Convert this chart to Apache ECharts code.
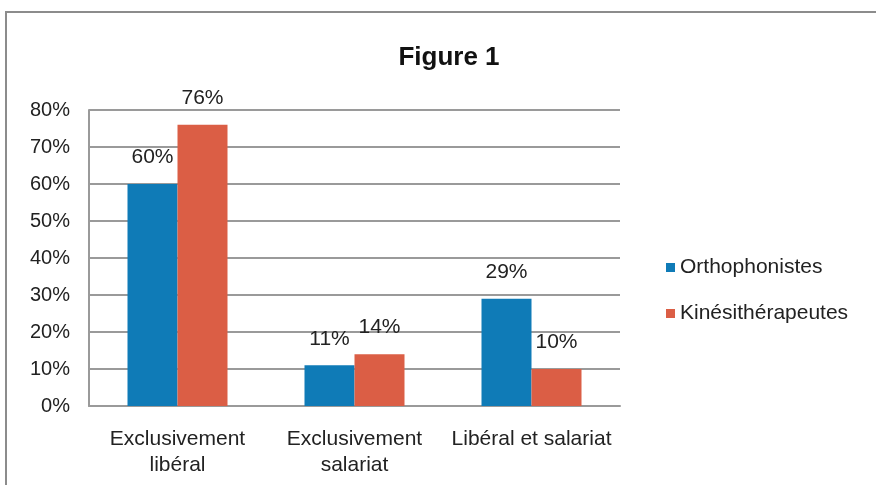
<!DOCTYPE html>
<html>
<head>
<meta charset="utf-8">
<script src="https://cdn.jsdelivr.net/npm/echarts@6/dist/echarts.min.js"></script>
<style>html,body{margin:0;padding:0;background:#fff}#c{width:876px;height:485px}</style>
</head>
<body>
<div id="c"></div>
<script>
const categories = ['Exclusivement\nlibéral', 'Exclusivement\nsalariat', 'Libéral et salariat'];
const orthophonistes = [60, 11, 29];
const kinesitherapeutes = [76, 14, 10];
const seriesNames = ['Orthophonistes', 'Kinésithérapeutes'];
const yTicks = { min: 0, max: 80, interval: 10 };

const chart = echarts.init(document.getElementById('c'), null, { renderer: 'canvas' });
const font = 'Liberation Sans, Arial, sans-serif';
const labelStyle = {
  show: true, position: 'top', distance: 16,
  formatter: p => p.value + '%',
  fontFamily: font, fontSize: 21, color: '#222'
};
chart.setOption({
  backgroundColor: '#fff',
  animation: false,
  title: {
    text: 'Figure 1', left: 444, top: 40, textAlign: 'center',
    textStyle: { fontFamily: font, fontSize: 26, fontWeight: 'bold', color: '#111' }
  },
  legend: {
    orient: 'vertical', left: 666, top: 257, padding: 0,
    itemWidth: 9, itemHeight: 9, itemGap: 25, icon: 'rect',
    textStyle: { fontFamily: font, fontSize: 21, color: '#222' },
    data: seriesNames
  },
  grid: { left: 89, right: 256, top: 110, bottom: 79, containLabel: false },
  xAxis: {
    type: 'category', data: categories,
    axisLine: { lineStyle: { color: '#9a9a9a', width: 2 } },
    axisTick: { show: false },
    axisLabel: { fontFamily: font, fontSize: 21, color: '#222', lineHeight: 26, margin: 20, interval: 0 }
  },
  yAxis: {
    type: 'value', min: yTicks.min, max: yTicks.max, interval: yTicks.interval,
    axisLine: { show: true, lineStyle: { color: '#9a9a9a', width: 2 } },
    axisTick: { show: false },
    splitLine: { lineStyle: { color: '#9a9a9a', width: 2 } },
    axisLabel: { formatter: '{value}%', fontFamily: font, fontSize: 20, color: '#222', margin: 19 }
  },
  series: [
    { name: seriesNames[0], type: 'bar', data: orthophonistes, barWidth: 50, barGap: '0%',
      itemStyle: { color: '#0F7BB7' }, label: labelStyle },
    { name: seriesNames[1], type: 'bar', data: kinesitherapeutes, barWidth: 50, barGap: '0%',
      itemStyle: { color: '#DB5E45' }, label: labelStyle }
  ],
  graphic: [{
    type: 'rect', silent: true, z: -1,
    shape: { x: 6, y: 12, width: 900, height: 500 },
    style: { fill: 'none', stroke: '#8c8c8c', lineWidth: 2 }
  }]
});
</script>
</body>
</html>
